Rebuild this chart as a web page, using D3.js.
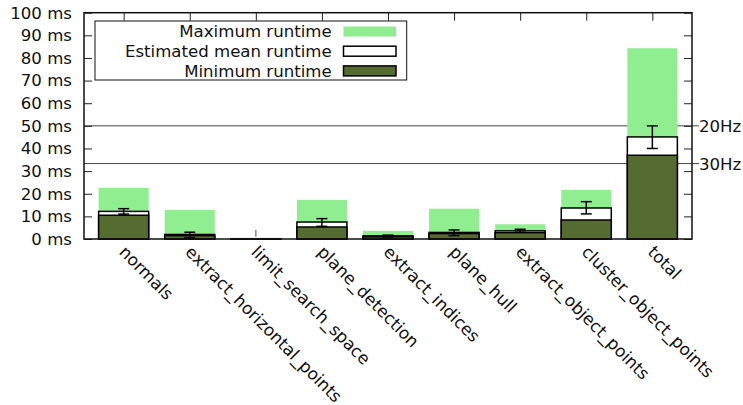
<!DOCTYPE html>
<html>
<head>
<meta charset="utf-8">
<script src="https://cdn.jsdelivr.net/npm/d3@7"></script>
<style>
  html, body { margin: 0; padding: 0; background: #fff; }
  svg { display: block; font-family: "DejaVu Sans", sans-serif; }
</style>
</head>
<body>
<svg id="chart" width="743" height="405"></svg>
<script>
// Pipeline stage runtimes (ms)
const categories = ["normals", "extract_horizontal_points", "limit_search_space", "plane_detection",
  "extract_indices", "plane_hull", "extract_object_points", "cluster_object_points", "total"];
const maxRuntime  = [22.6, 12.8, 0.5, 17.3, 3.6, 13.4, 6.5, 21.7, 84.3];
const meanRuntime = [12.2, 2.0, 0.1, 7.5, 1.4, 2.9, 3.6, 13.7, 45.1];
const minRuntime  = [10.5, 1.5, 0.05, 5.3, 1.0, 2.4, 2.8, 8.4, 37.0];
const errLow      = [11.0, 0.6, 1.0, 5.6, 0.9, 1.5, 3.0, 11.1, 40.0];
const errHigh     = [13.4, 3.0, 4.0, 9.0, 1.7, 4.0, 4.3, 16.5, 50.0];
const yTicks = [0, 10, 20, 30, 40, 50, 60, 70, 80, 90, 100];
const rateLines = [{ label: "20Hz", ms: 1000 / 20 }, { label: "30Hz", ms: 1000 / 30 }];
const legendItems = ["Maximum runtime", "Estimated mean runtime", "Minimum runtime"];

(function draw() {
  const svg = d3.select("#chart");
  const pL = 84, pR = 692, pT = 12.7, pB = 239;
  const fs = 16.6;

  const x = d3.scaleLinear().domain([-0.6, categories.length - 1 + 0.6]).range([pL, pR]);
  const y = d3.scaleLinear().domain([0, 100]).range([pB, pT]);
  const barW = x(0.757) - x(0);

  // frequency reference lines
  rateLines.forEach(r => {
    svg.append("line").attr("x1", pL).attr("x2", pR + 7)
      .attr("y1", y(r.ms)).attr("y2", y(r.ms))
      .attr("stroke", "#444").attr("stroke-width", 1);
    svg.append("text").attr("x", pR + 7).attr("y", y(r.ms))
      .attr("dy", "0.36em").attr("font-size", fs).attr("fill", "#111").text(r.label);
  });

  // axes (left with labels, right/top mirrored ticks)
  const yAxis = d3.axisLeft(y).tickValues(yTicks).tickSize(-8).tickPadding(12)
    .tickFormat(d => d + " ms");
  const gy = svg.append("g").attr("transform", `translate(${pL},0)`).call(yAxis);
  gy.select(".domain").remove();
  gy.selectAll("text").attr("font-size", fs).attr("font-family", "DejaVu Sans").attr("fill", "#111");
  gy.selectAll("line").attr("stroke", "#222");

  const gyr = svg.append("g").attr("transform", `translate(${pR},0)`)
    .call(d3.axisRight(y).tickValues(yTicks).tickSize(-8).tickFormat(""));
  gyr.select(".domain").remove();
  gyr.selectAll("line").attr("stroke", "#222");

  const gxt = svg.append("g").attr("transform", `translate(0,${pT})`)
    .call(d3.axisTop(x).tickValues(d3.range(categories.length)).tickSize(-8).tickFormat(""));
  gxt.select(".domain").remove();
  gxt.selectAll("line").attr("stroke", "#222");

  // category labels
  const gx = svg.append("g").attr("transform", `translate(0,${pB})`)
    .call(d3.axisBottom(x).tickValues(d3.range(categories.length)).tickSize(0)
      .tickFormat(i => categories[i]));
  gx.select(".domain").remove();
  gx.selectAll("text")
    .attr("font-size", 16.9).attr("font-family", "DejaVu Sans").attr("fill", "#111")
    .attr("text-anchor", "start").attr("dy", null).attr("y", 0)
    .attr("transform", "translate(-6,14) rotate(45)");

  // bars
  const idx = d3.range(categories.length);
  const bars = svg.append("g");
  bars.selectAll(".max").data(idx).join("rect")
    .attr("x", i => x(i) - barW / 2).attr("width", barW)
    .attr("y", i => y(maxRuntime[i])).attr("height", i => y(0) - y(maxRuntime[i]))
    .attr("fill", "#90ee90");
  bars.selectAll(".mean").data(idx).join("rect")
    .attr("x", i => x(i) - barW / 2).attr("width", barW)
    .attr("y", i => y(meanRuntime[i])).attr("height", i => y(0) - y(meanRuntime[i]))
    .attr("fill", "#fff").attr("stroke", "#000").attr("stroke-width", 1.5);
  bars.selectAll(".min").data(idx).join("rect")
    .attr("x", i => x(i) - barW / 2).attr("width", barW)
    .attr("y", i => y(minRuntime[i])).attr("height", i => y(0) - y(minRuntime[i]))
    .attr("fill", "#556b2f").attr("stroke", "#000").attr("stroke-width", 1.5);

  // error bars on the mean; a near-zero mean gets only a faint whisker
  const eb = svg.append("g");
  idx.forEach(i => {
    const cx = x(i), cap = 5.5;
    const faint = y(0) - y(meanRuntime[i]) < 1;
    eb.append("line").attr("x1", cx).attr("x2", cx).attr("y1", y(errLow[i])).attr("y2", y(errHigh[i]))
      .attr("stroke", faint ? "#888" : "#000").attr("stroke-width", 1.5);
    if (!faint) {
      [errLow[i], errHigh[i]].forEach(v =>
        eb.append("line").attr("x1", cx - cap).attr("x2", cx + cap).attr("y1", y(v)).attr("y2", y(v))
          .attr("stroke", "#000").attr("stroke-width", 1.5));
    }
  });

  // frame
  svg.append("rect").attr("x", pL).attr("y", pT).attr("width", pR - pL).attr("height", pB - pT)
    .attr("fill", "none").attr("stroke", "#111").attr("stroke-width", 1.5);

  // legend
  const lg = svg.append("g");
  lg.append("rect").attr("x", 95).attr("y", 21).attr("width", 311.7).attr("height", 59)
    .attr("fill", "#fff").attr("stroke", "#111").attr("stroke-width", 1);
  const swatch = [
    { fill: "#90ee90", stroke: "none" },
    { fill: "#fff", stroke: "#000" },
    { fill: "#556b2f", stroke: "#000" }
  ];
  legendItems.forEach((t, k) => {
    const cy = 31.5 + k * 19.7;
    lg.append("text").attr("x", 331.7).attr("y", cy).attr("dy", "0.36em")
      .attr("text-anchor", "end").attr("font-size", fs).attr("fill", "#111").text(t);
    lg.append("rect").attr("x", 343.5).attr("y", cy - 5).attr("width", 52.5).attr("height", 10)
      .attr("fill", swatch[k].fill).attr("stroke", swatch[k].stroke).attr("stroke-width", 1.5);
  });
})();
</script>
</body>
</html>
